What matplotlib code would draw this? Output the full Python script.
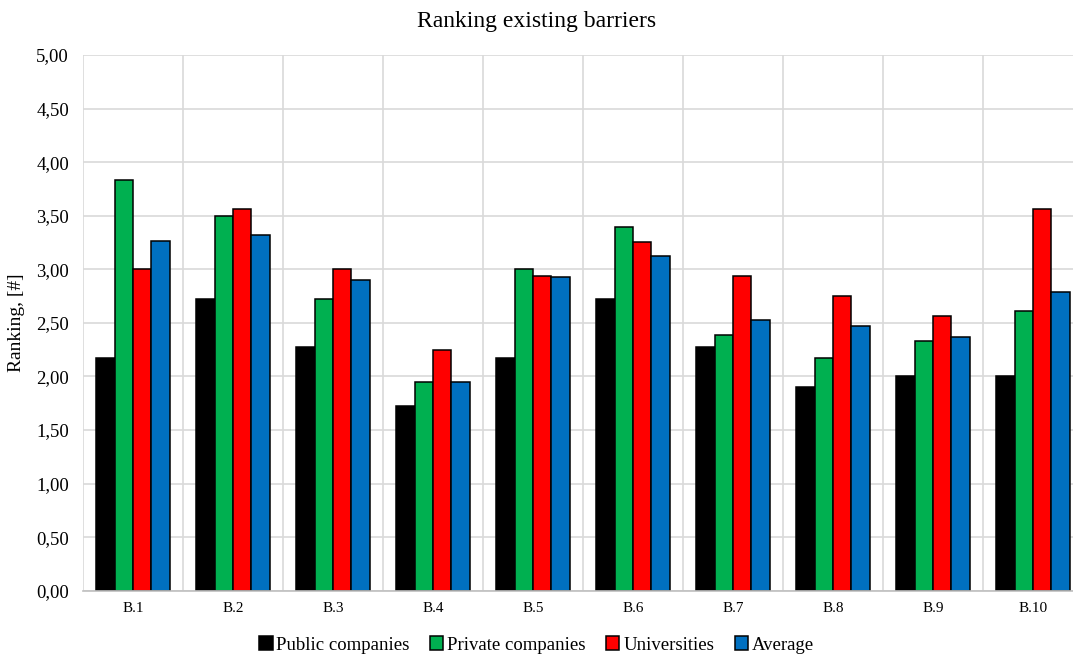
import matplotlib
matplotlib.use("Agg")
import matplotlib.pyplot as plt
import numpy as np
from matplotlib.ticker import FixedLocator, FuncFormatter

categories = ["B.1", "B.2", "B.3", "B.4", "B.5", "B.6", "B.7", "B.8", "B.9", "B.10"]
public = [2.17, 2.72, 2.27, 1.72, 2.17, 2.72, 2.27, 1.90, 2.00, 2.00]
private = [3.83, 3.50, 2.72, 1.95, 3.00, 3.39, 2.39, 2.17, 2.33, 2.61]
universities = [3.00, 3.56, 3.00, 2.25, 2.94, 3.25, 2.94, 2.75, 2.56, 3.56]
average = [3.26, 3.32, 2.90, 1.95, 2.93, 3.12, 2.53, 2.47, 2.37, 2.79]
series_names = ["Public companies", "Private companies", "Universities", "Average"]
colors = ["#000000", "#00b050", "#ff0000", "#0070c0"]

plt.rcParams['font.family'] = ['Liberation Serif', 'DejaVu Serif']

fig = plt.figure(figsize=(10.73, 6.57), dpi=100)
ax = fig.add_axes([83/1073, (657-590.7)/657, 1000/1073, (590.7-55)/657])

x = np.arange(len(categories)) + 0.5
w = 0.183
data = [public, private, universities, average]
for i, (vals, name, c) in enumerate(zip(data, series_names, colors)):
    ax.bar(x + (i - 1.5) * w, vals, width=w, color=c, edgecolor="black",
           linewidth=1.1, label=name, zorder=3)

ax.set_xlim(0, 10)
ax.set_ylim(0, 5)
ax.yaxis.set_major_locator(FixedLocator(np.arange(0, 5.01, 0.5)))
ax.yaxis.set_major_formatter(FuncFormatter(lambda v, p: f"{v:.2f}".replace(".", ",")))
ax.set_xticks(x)
ax.set_xticklabels(categories)
ax.set_xticks(np.arange(0, 11), minor=True)
ax.tick_params(axis="x", which="both", length=0, labelsize=11, pad=8)
ax.tick_params(axis="y", length=0, labelsize=13.5, pad=10)
ax.grid(axis="y", which="major", color="#d9d9d9", linewidth=1.2, zorder=0)
ax.grid(axis="x", which="minor", color="#d9d9d9", linewidth=1.2, zorder=0)
ax.grid(axis="x", which="major", visible=False)
for s in ["top", "right", "left"]:
    ax.spines[s].set_visible(False)
ax.spines["bottom"].set_color("#bfbfbf")
ax.spines["bottom"].set_linewidth(1.2)
ax.spines["bottom"].set_zorder(4)

ax.set_ylabel("Ranking, [#]", fontsize=14, labelpad=8)
fig.text(0.5, 1 - 21/657, "Ranking existing barriers", ha="center", va="center", fontsize=17)

leg = fig.legend(loc="center", bbox_to_anchor=(0.5, 1 - 645/657), ncol=4, frameon=False,
                 fontsize=13.5, handlelength=0.7, handleheight=0.7, handletextpad=0.2,
                 columnspacing=1.1)

fig.savefig("out.png", dpi=100)
